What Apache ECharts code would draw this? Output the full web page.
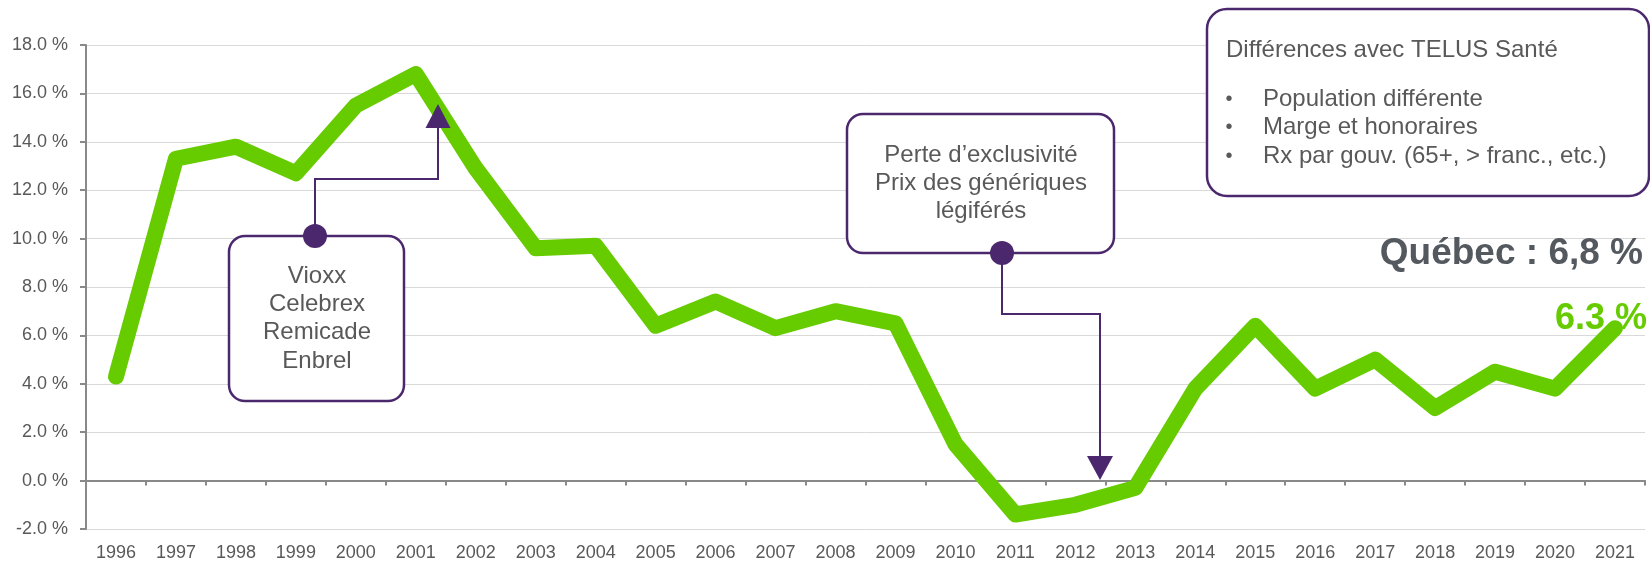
<!DOCTYPE html>
<html>
<head>
<meta charset="utf-8">
<script src="https://cdn.jsdelivr.net/npm/echarts@6/dist/echarts.min.js"></script>
<style>
  html, body { margin: 0; padding: 0; background: #fff; }
  #chart { width: 1650px; height: 562px; }
</style>
</head>
<body>
<div id="chart"></div>
<script>
// Données : croissance annuelle (%)
var annees = ['1996', '1997', '1998', '1999', '2000', '2001', '2002', '2003', '2004',
    '2005', '2006', '2007', '2008', '2009', '2010', '2011', '2012', '2013', '2014',
    '2015', '2016', '2017', '2018', '2019', '2020', '2021'];
var croissance = [4.3, 13.3, 13.8, 12.7, 15.5, 16.8, 12.9, 9.6, 9.7,
    6.4, 7.4, 6.3, 7.0, 6.5, 1.5, -1.4, -1.0, -0.3, 3.8,
    6.4, 3.8, 5.0, 3.0, 4.5, 3.8, 6.3];
var ticksY = { min: -2, max: 18, interval: 2 };

var vert = '#66CC00';
var violet = '#4B286D';
var gris = '#595959';
var police = '"Liberation Sans", Arial, sans-serif';

var boite1 = ['Vioxx', 'Celebrex', 'Remicade', 'Enbrel'];
var boite2 = ['Perte d\u2019exclusivité', 'Prix des génériques', 'légiférés'];
var titreBoite3 = 'Différences avec TELUS Santé';
var puces = ['Population différente', 'Marge et honoraires', 'Rx par gouv. (65+, > franc., etc.)'];
var texteQuebec = 'Québec : 6,8 %';

var chart = echarts.init(document.getElementById('chart'));

var derniere = croissance[croissance.length - 1];

chart.setOption({
    animation: false,
    textStyle: { fontFamily: police },
    grid: { left: 86, right: 5, top: 45, bottom: 33 },
    xAxis: [{
        type: 'category',
        data: annees,
        position: 'bottom',
        axisLine: { show: false, onZero: false },
        axisTick: { show: false },
        axisLabel: { interval: 0, fontSize: 18, color: gris, margin: 15, fontFamily: police },
        splitLine: { show: false }
    }, {
        type: 'category',
        data: annees,
        position: 'bottom',
        axisLine: { show: true, onZero: true, lineStyle: { color: '#898989', width: 2 } },
        axisTick: { show: true, interval: 0, length: 5, lineStyle: { color: '#898989', width: 2 } },
        axisLabel: { show: false },
        splitLine: { show: false }
    }],
    yAxis: {
        type: 'value',
        min: ticksY.min,
        max: ticksY.max,
        interval: ticksY.interval,
        axisLine: { show: true, lineStyle: { color: '#898989', width: 2 } },
        axisTick: { show: true, length: 6, lineStyle: { color: '#898989', width: 2 } },
        axisLabel: {
            fontSize: 18, color: gris, margin: 18, fontFamily: police,
            formatter: function(v) { return v.toFixed(1) + ' %'; }
        },
        splitLine: { lineStyle: { color: '#d9d9d9', width: 1 } }
    },
    series: [{
        type: 'line',
        xAxisIndex: 0,
        data: croissance,
        showSymbol: false,
        symbol: 'none',
        lineStyle: { color: vert, width: 16, cap: 'round', join: 'round' },
        z: 3
    }],
    graphic: [
        // Boîte Vioxx
        { type: 'polyline', z: 100, shape: { points: [[315, 236], [315, 179], [438, 179], [438, 126]] },
          style: { stroke: violet, lineWidth: 2, fill: null } },
        { type: 'polygon', z: 101, shape: { points: [[438, 104], [425.5, 128], [450.5, 128]] },
          style: { fill: violet } },
        { type: 'rect', z: 100, shape: { x: 229, y: 236, width: 175, height: 165, r: 16 },
          style: { fill: '#fff', stroke: violet, lineWidth: 2.5 } },
        { type: 'circle', z: 102, shape: { cx: 315, cy: 236, r: 12 }, style: { fill: violet } },
        { type: 'text', z: 103, style: { text: boite1.join('\n'), x: 317, y: 318.5, align: 'center',
          verticalAlign: 'middle', font: '24px ' + police, fill: gris, lineHeight: 28.4 } },

        // Boîte Perte d'exclusivité
        { type: 'polyline', z: 100, shape: { points: [[1002, 253], [1002, 314], [1100, 314], [1100, 458]] },
          style: { stroke: violet, lineWidth: 2, fill: null } },
        { type: 'polygon', z: 101, shape: { points: [[1100, 480], [1087, 456], [1113, 456]] },
          style: { fill: violet } },
        { type: 'rect', z: 100, shape: { x: 847, y: 114, width: 267, height: 139, r: 16 },
          style: { fill: '#fff', stroke: violet, lineWidth: 2.5 } },
        { type: 'circle', z: 102, shape: { cx: 1002, cy: 253, r: 12 }, style: { fill: violet } },
        { type: 'text', z: 103, style: { text: boite2.join('\n'), x: 981, y: 183.3, align: 'center',
          verticalAlign: 'middle', font: '24px ' + police, fill: gris, lineHeight: 28.3 } },

        // Boîte TELUS Santé
        { type: 'rect', z: 100, shape: { x: 1207, y: 9, width: 442, height: 187, r: 20 },
          style: { fill: '#fff', stroke: violet, lineWidth: 2.5 } },
        { type: 'text', z: 103, style: { text: titreBoite3, x: 1226, y: 50, align: 'left',
          verticalAlign: 'middle', font: '24px ' + police, fill: gris } },
        { type: 'group', z: 103, children: puces.map(function(p, i) {
            return { type: 'group', children: [
                { type: 'text', z: 103, style: { text: '\u2022', x: 1229, y: 99 + i * 28.7, align: 'center',
                  verticalAlign: 'middle', font: '20px ' + police, fill: gris } },
                { type: 'text', z: 103, style: { text: p, x: 1263, y: 99 + i * 28.7, align: 'left',
                  verticalAlign: 'middle', font: '24px ' + police, fill: gris } }
            ] };
        }) },

        // Étiquettes
        { type: 'text', z: 103, style: { text: texteQuebec, x: 1643, y: 254, align: 'right',
          verticalAlign: 'middle', font: 'bold 37px ' + police, fill: '#54595F' } },
        { type: 'text', z: 2, style: { text: derniere.toFixed(1) + ' %', x: 1647, y: 319, align: 'right',
          verticalAlign: 'middle', font: 'bold 36px ' + police, fill: vert } }
    ]
});
</script>
</body>
</html>
